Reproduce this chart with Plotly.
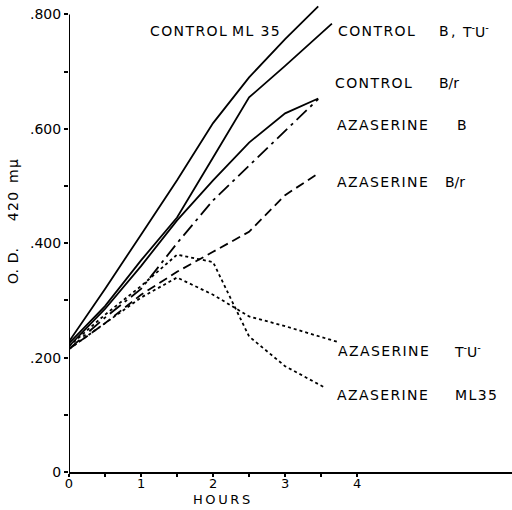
import plotly.graph_objects as go

HS = "\u200a"  # hair space for letter spacing
NB = "\u00a0"


def spaced(s):
    return HS.join(list(s))


# hours and optical density values per series
ctrl_ml35_x = [0, 0.5, 1, 1.5, 2, 2.5, 3, 3.46]
ctrl_ml35_y = [0.228, 0.32, 0.415, 0.51, 0.61, 0.69, 0.757, 0.814]

ctrl_b_x = [0, 0.5, 1, 1.5, 2, 2.5, 3, 3.65]
ctrl_b_y = [0.225, 0.29, 0.37, 0.445, 0.55, 0.655, 0.71, 0.784]

ctrl_br_x = [0, 0.5, 1, 1.5, 2, 2.5, 3, 3.46]
ctrl_br_y = [0.22, 0.285, 0.36, 0.44, 0.51, 0.576, 0.627, 0.653]

aza_b_x = [0, 0.5, 1, 1.5, 2, 2.5, 3, 3.46]
aza_b_y = [0.215, 0.27, 0.32, 0.40, 0.475, 0.535, 0.595, 0.652]

aza_br_x = [0, 0.5, 1, 1.5, 2, 2.5, 3, 3.46]
aza_br_y = [0.215, 0.26, 0.31, 0.35, 0.385, 0.42, 0.484, 0.522]

aza_tu_x = [0, 0.5, 1, 1.5, 2, 2.5, 3, 3.74]
aza_tu_y = [0.215, 0.26, 0.305, 0.34, 0.31, 0.272, 0.255, 0.227]

aza_ml35_x = [0, 0.5, 1, 1.5, 2, 2.5, 3, 3.56]
aza_ml35_y = [0.22, 0.275, 0.325, 0.38, 0.367, 0.237, 0.185, 0.147]

y_tick_vals = [0, 0.2, 0.4, 0.6, 0.8]
y_tick_text = ["0", ".200", ".400", ".600", ".800"]
x_tick_vals = [0, 1, 2, 3, 4]
x_tick_text = ["0", "1", "2", "3", "4"]

series = [
    (ctrl_ml35_x, ctrl_ml35_y, "solid"),
    (ctrl_b_x, ctrl_b_y, "solid"),
    (ctrl_br_x, ctrl_br_y, "solid"),
    (aza_b_x, aza_b_y, "14px,5px,3px,5px"),
    (aza_br_x, aza_br_y, "9px,5px"),
    (aza_tu_x, aza_tu_y, "3px,3px"),
    (aza_ml35_x, aza_ml35_y, "3px,3px"),
]

fig = go.Figure()
for xs, ys, dash in series:
    fig.add_trace(go.Scatter(x=xs, y=ys, mode="lines",
                             line=dict(color="black", width=1.8, dash=dash),
                             showlegend=False, hoverinfo="skip"))

font = dict(family="DejaVu Sans", size=14, color="black")
TU = "T<sup>-</sup>U<sup>-</sup>"
# (text, left pixel x, center pixel y)
label_parts = [
    (spaced("CONTROL"), 148, 31), (spaced("ML 35"), 230, 31),
    (spaced("CONTROL"), 336, 31), ("B", 437, 31), (",", 449, 31), (TU, 460, 31),
    (spaced("CONTROL"), 333, 83), ("B/r", 437, 83),
    (spaced("AZASERINE"), 335, 125), ("B", 455, 125),
    (spaced("AZASERINE"), 335, 182), ("B/r", 443, 182),
    (spaced("AZASERINE"), 336, 351), (TU, 452, 351),
    (spaced("AZASERINE"), 335, 395), (spaced("ML35"), 453, 395),
]
for txt, px, py in label_parts:
    fig.add_annotation(x=(px - 69) / 443, y=(472 - py) / 469, xref="paper", yref="paper",
                       text=txt, showarrow=False, xanchor="left", yanchor="middle",
                       font=font)

# axis titles
ytitle = "O." + HS + " D." + NB * 6 + spaced("420") + NB * 2 + "m" + HS + "μ"
fig.add_annotation(x=(13 - 69) / 443, y=(472 - 222) / 469, xref="paper", yref="paper",
                   text=ytitle, textangle=-90, showarrow=False,
                   xanchor="center", yanchor="middle", font=font)
fig.add_annotation(x=(221 - 69) / 443, y=(472 - 499) / 469, xref="paper", yref="paper",
                   text="H\u2009O\u2009U\u2009R\u2009S",
                   showarrow=False, xanchor="center", yanchor="middle",
                   font=dict(family="DejaVu Sans", size=13, color="black"))

# y axis line up to .800
fig.add_shape(type="line", x0=0, x1=0, y0=0, y1=0.8, xref="x", yref="y",
              line=dict(color="black", width=2))

fig.update_layout(
    width=512, height=510,
    margin=dict(l=69, r=0, t=3, b=38),
    paper_bgcolor="white", plot_bgcolor="white",
    xaxis=dict(range=[0, 6.15], tickvals=x_tick_vals, ticktext=x_tick_text,
               showgrid=False, zeroline=False, showline=True, linecolor="black",
               linewidth=2, ticks="outside", ticklen=3, tickcolor="black", tickwidth=1.5,
               minor=dict(tickvals=[0.5, 1.5, 2.5, 3.5], ticks="outside", ticklen=3,
                          tickcolor="black", tickwidth=1.5),
               ticklabelstandoff=-5,
               tickfont=dict(family="DejaVu Sans", size=13, color="black")),
    yaxis=dict(range=[0, 0.82], tickvals=y_tick_vals, ticktext=y_tick_text,
               showgrid=False, zeroline=False, showline=False,
               ticks="outside", ticklen=4, tickcolor="black", tickwidth=1.5,
               minor=dict(tickvals=[0.1, 0.3, 0.5, 0.7], ticks="outside", ticklen=4,
                          tickcolor="black", tickwidth=1.5),
               tickfont=dict(family="DejaVu Sans", size=14, color="black")),
)

fig.write_html("out.html")
